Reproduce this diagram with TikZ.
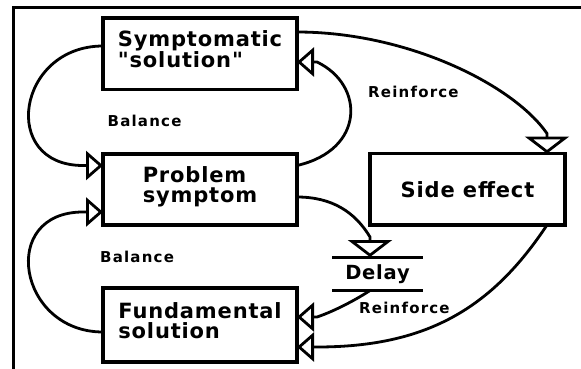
\documentclass[tikz,border=0pt]{standalone}
\usepackage{fontspec}
% plain families (no TeX quote mapping), slightly letter-spaced
\newfontfamily\boxfont{DejaVu Sans}[LetterSpace=4]
\newfontfamily\labelfont{DejaVu Sans}[LetterSpace=8]
\usetikzlibrary{arrows.meta,calc}
\begin{document}
\begin{tikzpicture}[x=1pt,y=-1pt,
  box/.style={draw, line width=3.5pt, minimum width=194pt, inner sep=0pt,
    outer sep=0pt, align=left, font=\boxfont\fontsize{21}{20}\selectfont\bfseries},
  twoline/.style={execute at end node={\rule[-9pt]{0pt}{0pt}}},
  delaybox/.style={minimum width=91pt, minimum height=33.5pt, inner sep=0pt,
    outer sep=0pt, font=\boxfont\fontsize{19.5}{20}\selectfont\bfseries},
  lbl/.style={anchor=base west, inner sep=0pt,
    font=\labelfont\fontsize{15}{15}\selectfont\bfseries},
  conn/.style={line width=2.8pt},
  hhead/.style={-{Triangle[open, length=17pt, width=29pt, line width=2.8pt]}},
  vhead/.style={-{Triangle[open, length=17pt, width=44pt, line width=2.8pt]}},
]
\useasboundingbox[fill=white] (0,0) rectangle (581,369);

% frame edges
\draw[line width=3pt, line join=miter] (13.5,369) -- (13.5,7.3) -- (581,7.3);

% boxes
\node[box, twoline, minimum height=71.5pt] (sym)  at (200,53.75) {Symptomatic\\"solution"};
\node[box, twoline, minimum height=71pt]   (prob) at (200,189.5) {Problem\\symptom};
\node[box, twoline, minimum height=74pt]   (fund) at (200,325)   {Fundamental\\solution};
\node[box, minimum width=195pt, minimum height=71.5pt] (side) at (467.5,189.25) {Side effect};

% delay marker
\node[delaybox] (delay) at (377.5,273.75) {Delay};
\draw[line width=3pt] (delay.north west) -- (delay.north east)
                      (delay.south west) -- (delay.south east);

% loop labels
\node[lbl] (bal1) at (107.5,126) {Balance};
\node[lbl] (bal2) at (100,262)   {Balance};
\node[lbl] (rei1) at (368,97)    {Reinforce};
\node[lbl] (rei2) at (359,313)   {Reinforce};

% connectors
\draw[conn, hhead] ($(sym.west)+(0,-7.75)$) .. controls +(-86,0) and +(-84,0) ..
  ($(prob.west)+(-20,-24)$) -- ($(prob.west)+(0,-24)$);
\draw[conn, hhead] ($(prob.east)+(0,-24)$) .. controls +(68,-15.5) and +(48,23) ..
  ($(sym.east)+(20,8.25)$) -- ($(sym.east)+(0,8.25)$);
\draw[conn, vhead] ($(sym.east)+(0,-21.75)$) .. controls +(110,0) and +(-34,-49) ..
  ($(side.north)+(79.5,-20)$) -- ($(side.north)+(79.5,0)$);
\draw[conn, vhead] ($(prob.east)+(0,7.5)$) .. controls +(35,0) and +(-15,-25) ..
  ($(delay.north)+(-7.5,-20)$) -- ($(delay.north)+(-7.5,0)$);
\draw[conn, hhead] ($(delay.south)+(-7.5,0)$) .. controls +(-12,8) and +(18,-6) ..
  ($(fund.east)+(20,-8)$) -- ($(fund.east)+(0,-8)$);
\draw[conn, hhead] ($(side.south)+(79.5,0)$) .. controls +(-55,83) and +(110,0) ..
  ($(fund.east)+(20,22)$) -- ($(fund.east)+(0,22)$);
\draw[conn, hhead] ($(fund.west)+(0,7)$) .. controls +(-85,0) and +(-85,0) ..
  ($(prob.west)+(-20,22.5)$) -- ($(prob.west)+(0,22.5)$);
\end{tikzpicture}
\end{document}
